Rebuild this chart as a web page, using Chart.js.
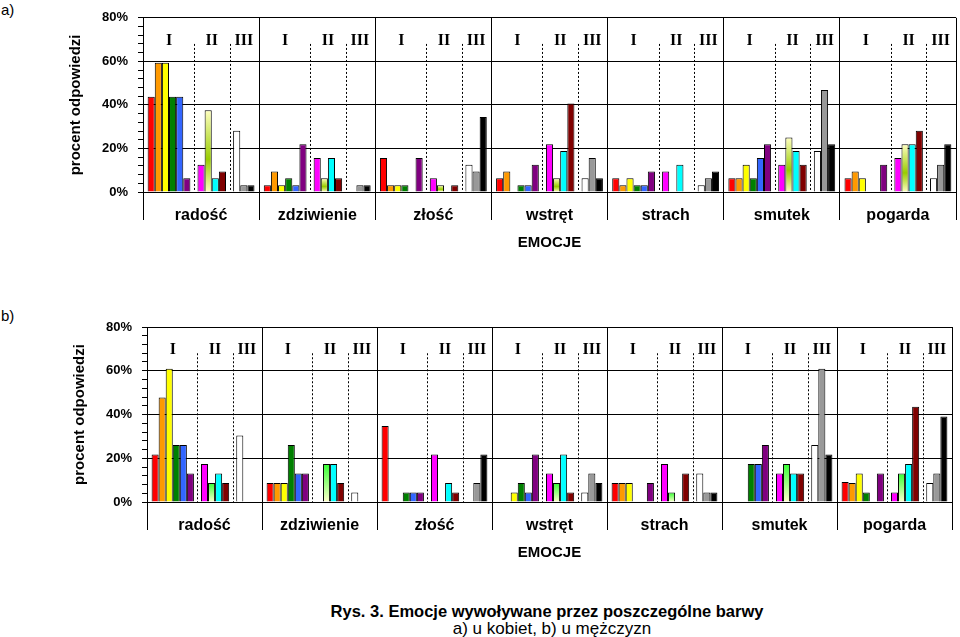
<!DOCTYPE html>
<html>
<head>
<meta charset="utf-8">
<script src="https://cdn.jsdelivr.net/npm/chart.js@4.4.1/dist/chart.umd.min.js"></script>
<style>
  body { margin: 0; background: #fff; width: 960px; height: 637px; position: relative; overflow: hidden;
         font-family: Arial, "Liberation Sans", sans-serif; color: #000; }
  canvas { position: absolute; left: 0; }
  #chartA { top: 0; }
  #chartB { top: 300px; }
  .tag { position: absolute; left: 1px; font-size: 15px; }
  .cap { position: absolute; text-align: center; white-space: nowrap; }
</style>
</head>
<body>
<div class="tag" style="top:1px">a)</div>
<div class="tag" style="top:307px">b)</div>
<canvas id="chartA" width="960" height="260"></canvas>
<canvas id="chartB" width="960" height="270"></canvas>
<div class="cap" style="left:247px;width:600px;top:602px;font-size:16.5px;font-weight:bold">Rys. 3. Emocje wywoływane przez poszczególne barwy</div>
<div class="cap" style="left:352px;width:400px;top:619px;font-size:17px">a) u kobiet, b) u mężczyzn</div>
<script>
const emotions = ['radość', 'zdziwienie', 'złość', 'wstręt', 'strach', 'smutek', 'pogarda'];
const groupNames = ['I', 'II', 'III'];
const yTicks = [0, 20, 40, 60, 80];

// 13 bars per emotion: group I (6 colours), group II (4), group III (3); null = no bar
// a) kobiety
const radoscA     = [43.8, 59.4, 59.4, 43.8, 43.8, 6.3, 12.5, 37.5, 6.3, 9.4, 28.1, 3.1, 3.1];
const zdziwienieA = [3.1, 9.4, 3.1, 6.3, 3.1, 21.9, 15.6, 6.3, 15.6, 6.3, null, 3.1, 3.1];
const zloscA      = [15.6, 3.1, 3.1, 3.1, null, 15.6, 6.3, 3.1, null, 3.1, 12.5, 9.4, 34.4];
const wstretA     = [6.3, 9.4, null, 3.1, 3.1, 12.5, 21.9, 6.3, 18.8, 40.6, 6.3, 15.6, 6.3];
const strachA     = [6.3, 3.1, 6.3, 3.1, 3.1, 9.4, 9.4, null, 12.5, null, 3.1, 6.3, 9.4];
const smutekA     = [6.3, 6.3, 12.5, 6.3, 15.6, 21.9, 12.5, 25.0, 18.8, 12.5, 18.8, 46.9, 21.9];
const pogardaA    = [6.3, 9.4, 6.3, null, null, 12.5, 15.6, 21.9, 21.9, 28.1, 6.3, 12.5, 21.9];

// b) mężczyźni
const radoscB     = [21.7, 47.8, 60.9, 26.1, 26.1, 13.0, 17.4, 8.7, 13.0, 8.7, 30.4, null, null];
const zdziwienieB = [8.7, 8.7, 8.7, 26.1, 13.0, 13.0, null, 17.4, 17.4, 8.7, 4.3, null, null];
const zloscB      = [34.8, null, null, 4.3, 4.3, 4.3, 21.7, null, 8.7, 4.3, null, 8.7, 21.7];
const wstretB     = [null, null, 4.3, 8.7, 4.3, 21.7, 13.0, 8.7, 21.7, 4.3, 4.3, 13.0, 8.7];
const strachB     = [8.7, 8.7, 8.7, null, null, 8.7, 17.4, 4.3, null, 13.0, 13.0, 4.3, 4.3];
const smutekB     = [null, null, null, 17.4, 17.4, 26.1, 13.0, 17.4, 13.0, 13.0, 26.1, 60.9, 21.7];
const pogardaB    = [9.1, 8.7, 13.0, 4.3, null, 13.0, 4.3, 13.0, 17.4, 43.5, 8.7, 13.0, 39.1];

const barColors = ['#ff0000', '#ff9900', '#ffff00', '#008000', '#3366ff', '#800080',
                   '#ff00ff', null, '#00ffff', '#800000', '#ffffff', '#999999', '#000000'];

function gradientFill(stops) {
  return (c) => {
    const chart = c.chart;
    if (!chart.chartArea || c.raw == null) return stops[0][1];
    const ys = chart.scales.y;
    const g = chart.ctx.createLinearGradient(0, ys.getPixelForValue(c.raw), 0, ys.getPixelForValue(0));
    stops.forEach(s => g.addColorStop(s[0], s[1]));
    return g;
  };
}

function buildDatasets(rows, stops) {
  const sets = [];
  for (let s = 0; s < 13; s++) {
    if (s === 6 || s === 10) {
      // empty slot between groups I/II and II/III
      sets.push({ label: '', data: rows.map(() => null), backgroundColor: 'transparent', borderWidth: 0 });
    }
    sets.push({
      label: 's' + s,
      data: rows.map(r => r[s]),
      backgroundColor: s === 7 ? gradientFill(stops) : barColors[s],
      borderColor: '#000',
      borderWidth: 1
    });
  }
  return sets;
}

// dotted separators and I / II / III headings inside each emotion
const groupMarks = {
  id: 'groupMarks',
  beforeDatasetsDraw(chart) {
    const ctx = chart.ctx;
    const ys = chart.scales.y;
    const m = i => chart.getDatasetMeta(i).data;
    const yTop = ys.getPixelForValue(68), yBot = ys.getPixelForValue(0);
    ctx.save();
    ctx.strokeStyle = '#000';
    ctx.lineWidth = 1;
    ctx.setLineDash([2, 2]);
    emotions.forEach((e, i) => {
      [6, 11].forEach(d => {
        const x = Math.round(m(d)[i].x) + 0.5;
        ctx.beginPath();
        ctx.moveTo(x, yTop);
        ctx.lineTo(x, yBot);
        ctx.stroke();
      });
    });
    ctx.setLineDash([]);
    ctx.fillStyle = '#000';
    ctx.font = 'bold 16px "Liberation Serif", "Times New Roman", serif';
    ctx.textAlign = 'center';
    ctx.textBaseline = 'middle';
    const yl = ys.getPixelForValue(69.5);
    emotions.forEach((e, i) => {
      [[0, 5], [7, 10], [12, 14]].forEach((p, g) => {
        const x = (m(p[0])[i].x + m(p[1])[i].x) / 2;
        ctx.fillText(groupNames[g], x, yl);
      });
    });
    ctx.restore();
  }
};

function makeChart(id, rows, stops, pad) {
  new Chart(document.getElementById(id), {
    type: 'bar',
    data: { labels: emotions, datasets: buildDatasets(rows, stops) },
    plugins: [groupMarks],
    options: {
      responsive: false,
      animation: false,
      layout: { padding: pad },
      datasets: { bar: { categoryPercentage: 0.92, barPercentage: 1 } },
      plugins: { legend: { display: false }, tooltip: { enabled: false } },
      scales: {
        x: {
          grid: { color: '#000', tickColor: '#000', tickLength: 28, offset: true },
          border: { color: '#000' },
          ticks: { color: '#000', padding: -14, maxRotation: 0, autoSkip: false,
                   font: { family: 'Arial', size: 16, weight: 'bold' } },
          title: { display: true, text: 'EMOCJE', color: '#000', padding: { top: 4, bottom: 2 },
                   font: { family: 'Arial', size: 15, weight: 'bold' } },
          afterFit: s => { s.height = 62; }
        },
        y: {
          min: 0, max: 80,
          grid: {
            color: c => yTicks.includes(c.tick.value) ? '#000' : 'transparent',
            tickColor: '#000', tickLength: 5
          },
          border: { color: '#000' },
          ticks: {
            stepSize: 4, autoSkip: false, padding: 10, color: '#000',
            font: { family: 'Arial', size: 13, weight: 'bold' },
            callback: v => yTicks.includes(v) ? v + '%' : ''
          },
          title: { display: true, text: 'procent odpowiedzi', color: '#000',
                   font: { family: 'Arial', size: 15, weight: 'bold' } },
          afterFit: s => { s.width = 80; }
        }
      }
    }
  });
}

makeChart('chartA', [radoscA, zdziwienieA, zloscA, wstretA, strachA, smutekA, pogardaA],
  [[0, '#ffffc0'], [0.6, '#99cc00'], [1, '#ffffc0']],
  { left: 63, top: 14, right: 4, bottom: 6 });

makeChart('chartB', [radoscB, zdziwienieB, zloscB, wstretB, strachB, smutekB, pogardaB],
  [[0, '#33ff33'], [1, '#ffffcc']],
  { left: 67, top: 27, right: 8, bottom: 6 });
</script>
</body>
</html>
